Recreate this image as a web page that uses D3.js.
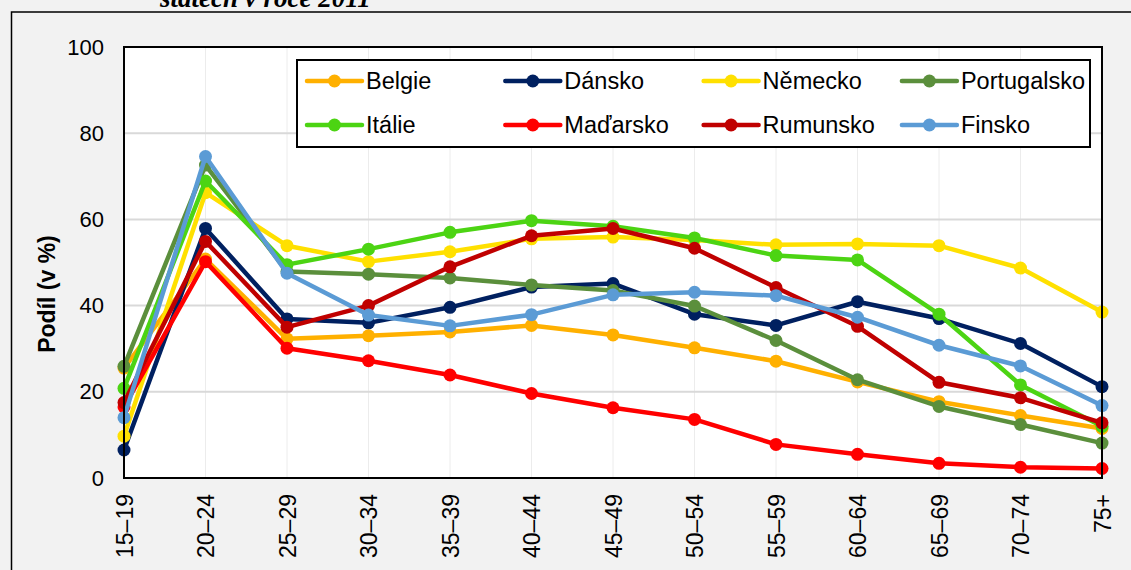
<!DOCTYPE html>
<html lang="cs">
<head>
<meta charset="utf-8">
<title>Podíl podle věku</title>
<script src="https://d3js.org/d3.v7.min.js"></script>
<style>
  body { margin: 0; background: #f2f2f2; }
  svg { display: block; font-family: Arial, "Liberation Sans", sans-serif; }
</style>
</head>
<body>
<div id="chart"></div>
<script>
// age groups on the x axis
const categories = ["15–19", "20–24", "25–29", "30–34", "35–39", "40–44", "45–49",
                    "50–54", "55–59", "60–64", "65–69", "70–74", "75+"];
const yTicks = [0, 20, 40, 60, 80, 100];

// share in % per country
const belgie      = [25.5, 50.8, 32.3, 33.0, 33.9, 35.4, 33.2, 30.2, 27.1, 22.3, 17.7, 14.5, 11.5];
const dansko      = [6.5, 57.9, 36.9, 36.0, 39.6, 44.3, 45.1, 38.0, 35.4, 40.9, 37.0, 31.2, 21.2];
const nemecko     = [9.7, 66.2, 53.9, 50.2, 52.5, 55.5, 55.9, 55.2, 54.1, 54.3, 53.9, 48.7, 38.5];
const portugalsko = [25.9, 72.6, 47.9, 47.3, 46.4, 44.8, 43.5, 39.9, 31.9, 22.8, 16.6, 12.4, 8.1];
const italie      = [20.8, 68.9, 49.5, 53.1, 57.0, 59.7, 58.4, 55.7, 51.6, 50.6, 38.0, 21.6, 12.0];
const madarsko    = [16.5, 50.2, 30.1, 27.2, 23.9, 19.6, 16.3, 13.6, 7.8, 5.5, 3.4, 2.5, 2.2];
const rumunsko    = [17.5, 54.9, 35.0, 40.0, 49.0, 56.2, 57.9, 53.3, 44.2, 35.2, 22.2, 18.6, 12.8];
const finsko      = [14.0, 74.6, 47.5, 37.8, 35.3, 37.9, 42.5, 43.1, 42.3, 37.3, 30.8, 26.0, 16.8];

const series = [
  { name: "Belgie",      values: belgie,      color: "#ffb000" },
  { name: "Dánsko",      values: dansko,      color: "#002060" },
  { name: "Německo",     values: nemecko,     color: "#ffe000" },
  { name: "Portugalsko", values: portugalsko, color: "#5b8f3c" },
  { name: "Itálie",      values: italie,      color: "#4cd413" },
  { name: "Maďarsko",    values: madarsko,    color: "#ff0000" },
  { name: "Rumunsko",    values: rumunsko,    color: "#c00000" },
  { name: "Finsko",      values: finsko,      color: "#5b9bd5" }
];

const W = 1131, H = 570;
const plot = { left: 124, right: 1102, top: 47, bottom: 478 };

const svg = d3.select("#chart").append("svg")
  .attr("width", W)
  .attr("height", H);

svg.append("rect").attr("width", W).attr("height", H).attr("fill", "#f2f2f2");

// outer frame (continues past the window)
svg.append("rect")
  .attr("x", 11.5).attr("y", 12)
  .attr("width", 1140).attr("height", 600)
  .attr("fill", "none").attr("stroke", "#000").attr("stroke-width", 1.5);

// title, mostly cut off at the top like in the source
svg.append("text")
  .attr("x", 160).attr("y", 7)
  .attr("font-family", "'Liberation Serif', 'Times New Roman', serif")
  .attr("font-weight", "bold").attr("font-style", "italic")
  .attr("font-size", 27)
  .text("státech v roce 2011");

const x = d3.scalePoint().domain(categories).range([plot.left, plot.right]);
const y = d3.scaleLinear().domain([0, 100]).range([plot.bottom, plot.top]);

// plot area
svg.append("rect")
  .attr("x", plot.left).attr("y", plot.top)
  .attr("width", plot.right - plot.left).attr("height", plot.bottom - plot.top)
  .attr("fill", "#fff");

// vertical grid
svg.append("g")
  .selectAll("line")
  .data(categories.slice(1, -1))
  .join("line")
  .attr("x1", d => x(d)).attr("x2", d => x(d))
  .attr("y1", plot.top).attr("y2", plot.bottom)
  .attr("stroke", "#ececec").attr("stroke-width", 1);

// horizontal grid
svg.append("g")
  .selectAll("line")
  .data(yTicks.slice(1, -1))
  .join("line")
  .attr("x1", plot.left).attr("x2", plot.right)
  .attr("y1", d => y(d)).attr("y2", d => y(d))
  .attr("stroke", "#d9d9d9").attr("stroke-width", 2);

// Y axis labels
const yAxis = d3.axisLeft(y).tickValues(yTicks).tickSize(0).tickPadding(20);
svg.append("g")
  .attr("transform", `translate(${plot.left},0)`)
  .call(yAxis)
  .call(g => g.select(".domain").remove())
  .selectAll("text")
  .attr("font-size", 22)
  .attr("font-family", "Arial, 'Liberation Sans', sans-serif")
  .attr("fill", "#000");

// X axis labels, rotated
const xAxis = d3.axisBottom(x).tickSize(0).tickPadding(0);
svg.append("g")
  .attr("transform", `translate(0,${plot.bottom})`)
  .call(xAxis)
  .call(g => g.select(".domain").remove())
  .selectAll("text")
  .attr("font-size", 23)
  .attr("font-family", "Arial, 'Liberation Sans', sans-serif")
  .attr("fill", "#000")
  .attr("text-anchor", "end")
  .attr("dy", "0.35em")
  .attr("transform", "translate(0,16) rotate(-90)");

// Y axis title
svg.append("text")
  .attr("transform", "translate(55,294) rotate(-90)")
  .attr("text-anchor", "middle")
  .attr("font-size", 23)
  .attr("font-weight", "bold")
  .text("Podíl (v %)");

// lines and markers
const line = d3.line()
  .x((d, i) => x(categories[i]))
  .y(d => y(d));

const sg = svg.append("g")
  .selectAll("g")
  .data(series)
  .join("g");

sg.append("path")
  .attr("d", d => line(d.values))
  .attr("fill", "none")
  .attr("stroke", d => d.color)
  .attr("stroke-width", 4.5)
  .attr("stroke-linejoin", "round");

sg.selectAll("circle")
  .data(d => d.values.map(v => ({ v, color: d.color })))
  .join("circle")
  .attr("cx", (d, i) => x(categories[i]))
  .attr("cy", d => y(d.v))
  .attr("r", 6.5)
  .attr("fill", d => d.color);

// plot border
svg.append("rect")
  .attr("x", plot.left).attr("y", plot.top)
  .attr("width", plot.right - plot.left).attr("height", plot.bottom - plot.top)
  .attr("fill", "none").attr("stroke", "#000").attr("stroke-width", 2);

// legend
const legendBox = { x: 297, y: 60, w: 793, h: 87 };
const lg = svg.append("g");
lg.append("rect")
  .attr("x", legendBox.x).attr("y", legendBox.y)
  .attr("width", legendBox.w).attr("height", legendBox.h)
  .attr("fill", "#fff").attr("stroke", "#000").attr("stroke-width", 2);

const item = lg.selectAll("g.item")
  .data(series)
  .join("g")
  .attr("class", "item")
  .attr("transform", (d, i) => `translate(${307 + (i % 4) * 198.3},${i < 4 ? 81 : 125})`);

item.append("line")
  .attr("x1", 0).attr("x2", 55)
  .attr("stroke", d => d.color).attr("stroke-width", 4.5)
  .attr("stroke-linecap", "round");
item.append("circle")
  .attr("cx", 27.5).attr("r", 6.5)
  .attr("fill", d => d.color);
item.append("text")
  .attr("x", 59).attr("dy", "0.35em")
  .attr("font-size", 23.5)
  .text(d => d.name);
</script>
</body>
</html>
